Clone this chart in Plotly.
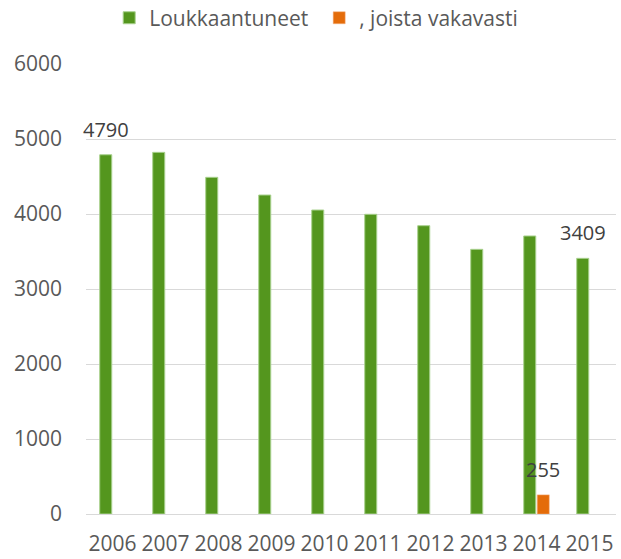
import plotly.graph_objects as go

years = ["2006", "2007", "2008", "2009", "2010", "2011", "2012", "2013", "2014", "2015"]
injured = [4790, 4822, 4489, 4253, 4053, 3996, 3844, 3529, 3707, 3409]
serious = [None, None, None, None, None, None, None, None, 255, None]
series_names = ["Loukkaantuneet", ", joista vakavasti"]
y_ticks = [0, 1000, 2000, 3000, 4000, 5000, 6000]

# labelled points: (series index, category index, value)
labels = [(0, 0, injured[0]), (0, 9, injured[9]), (1, 8, serious[8])]

GREEN = "#54961E"
ORANGE = "#E46C0A"
TXT = "#595959"
FONT = "Open Sans"

fig = go.Figure()
fig.add_trace(go.Bar(x=years, y=injured, name=series_names[0],
                     marker=dict(color=GREEN, line=dict(color="#A9D18E", width=1))))
fig.add_trace(go.Bar(x=years, y=serious, name=series_names[1],
                     marker=dict(color=ORANGE, line=dict(color="#F4B183", width=0.5))))

for si, ci, val in labels:
    fig.add_annotation(x=ci, y=val, xref="x", yref="y", text=str(val), showarrow=False,
                       xanchor="center", yanchor="bottom",
                       xshift=-6.8 if si == 0 else 6.8, yshift=10,
                       font=dict(family=FONT, size=20, color="#404040"))

fig.update_layout(
    width=621, height=559,
    margin=dict(l=86, r=5, t=64, b=45, autoexpand=False),
    paper_bgcolor="white", plot_bgcolor="white",
    barmode="group", bargap=0.49, bargroupgap=0.11,
    font=dict(family=FONT, size=21, color=TXT),
    legend=dict(orientation="h", x=0.44, xanchor="center", y=1.102, yanchor="middle",
                entrywidth=165, entrywidthmode="pixels",
                font=dict(family=FONT, size=21, color=TXT)),
    showlegend=True,
)
fig.update_xaxes(type="category", range=[-0.5, 9.5], showgrid=False, showline=False, ticks="",
                 tickfont=dict(family=FONT, size=21, color=TXT), ticklabelstandoff=15)
fig.update_yaxes(range=[0, 6000], tickvals=y_ticks, showgrid=True, gridcolor="#D9D9D9",
                 gridwidth=1, zeroline=True, zerolinecolor="#D9D9D9", zerolinewidth=1,
                 showline=False, ticks="", ticklabelstandoff=23,
                 tickfont=dict(family=FONT, size=21, color=TXT))

fig.write_html("out.html", config={"displayModeBar": False},
               post_script="document.body.style.margin='0';")
